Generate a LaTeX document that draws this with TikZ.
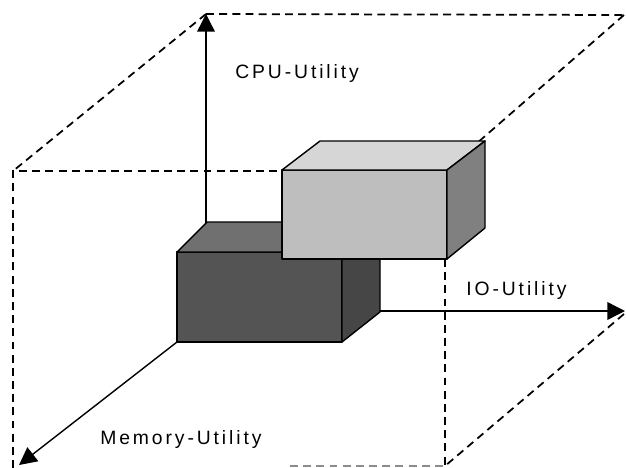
\documentclass[tikz,border=0pt]{standalone}
\usepackage{fontspec}
\setmainfont{Liberation Sans}
\newfontfamily\axisfont[LetterSpace=15]{Liberation Sans}
\usetikzlibrary{arrows.meta}
\definecolor{lightfront}{RGB}{190,190,190}
\definecolor{lighttop}{RGB}{214,214,214}
\definecolor{lightside}{RGB}{128,128,128}
\definecolor{darkfront}{RGB}{84,84,84}
\definecolor{darktop}{RGB}{112,112,112}
\definecolor{darkside}{RGB}{70,70,70}

\begin{document}
\begin{tikzpicture}[x=0.02cm, y=-0.02cm,
    every node/.style={font=\axisfont\fontsize{11}{13}\selectfont, inner sep=0pt},
    cubeedge/.style={line width=1pt, dash pattern=on 4.5pt off 3pt},
    axis/.style={line width=0.8pt, -{Triangle[length=10pt,width=10pt]}},
    boxface/.style={draw=black, line width=0.8pt, line join=round}]
    \useasboundingbox (0,0) rectangle (626,467);

    % Corners of the utility space
    \coordinate (O) at (206,311);
    \coordinate (cpu) at (206,14);
    \coordinate (io) at (625,311);
    \coordinate (mem) at (19,465);
    \coordinate (btr) at (624,15);
    \coordinate (ftl) at (13,171);
    \coordinate (ftr) at (445,171);
    \coordinate (fbr) at (445,466);
    \coordinate (fbl) at (13,468);
    \coordinate (fbm) at (290,466);
    \coordinate (bbr) at (624,314);

    % Dashed cube
    \draw[cubeedge] (cpu) -- (btr);
    \draw[cubeedge] (cpu) -- (ftl);
    \draw[cubeedge] (btr) -- (ftr);
    \draw[cubeedge] (bbr) -- (fbr);
    \draw[cubeedge] (fbl) -- (ftl) -- (ftr) -- (fbr);
    \draw[cubeedge, black!45] (fbm) -- (fbr);

    % Axes
    \draw[axis] (O) -- (cpu);
    \draw[axis] (O) -- (io);
    \coordinate (mstart) at (177,342);
    \draw[axis] (mstart) -- (mem);

    \node[anchor=base west] (cpulabel) at (235,78) {CPU-Utility};
    \node[anchor=base west] (iolabel) at (466,295) {IO-Utility};
    \node[anchor=base west] (memlabel) at (100,444) {Memory-Utility};

    % Dark box (front, top, side)
    \filldraw[boxface, fill=darkfront] (177,252) rectangle (342,342);
    \filldraw[boxface, fill=darktop] (177,252) -- (207,222) -- (380,222) -- (342,252) -- cycle;
    \filldraw[boxface, fill=darkside] (342,252) -- (380,222) -- (380,312) -- (342,342) -- cycle;

    % Light box (front, top, side)
    \filldraw[boxface, fill=lightfront] (282,170) rectangle (447,259);
    \filldraw[boxface, fill=lighttop] (282,170) -- (320,141) -- (485,141) -- (447,170) -- cycle;
    \filldraw[boxface, fill=lightside] (447,170) -- (485,141) -- (485,228) -- (447,259) -- cycle;
\end{tikzpicture}
\end{document}
